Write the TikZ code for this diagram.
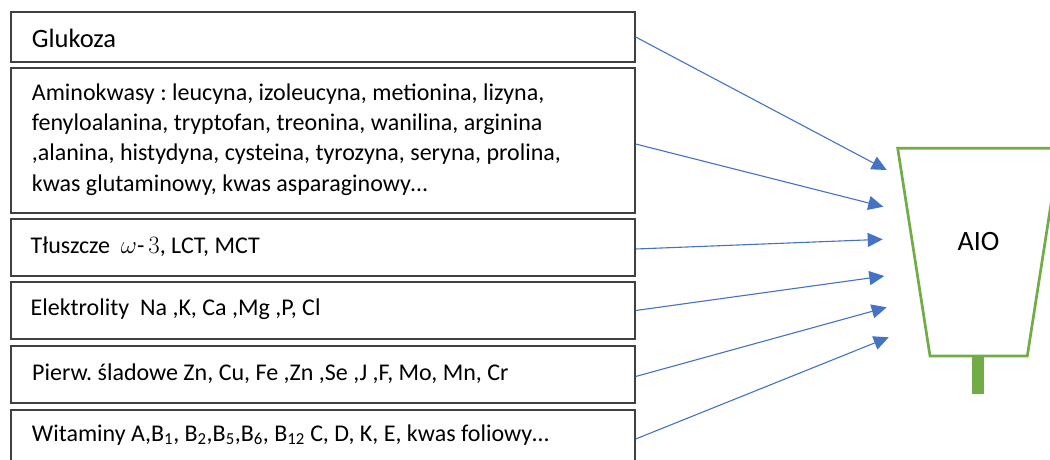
\documentclass[tikz,border=0pt]{standalone}
\usepackage{fontspec}
\setmainfont{Carlito}
\usetikzlibrary{arrows.meta}
\definecolor{arrowblue}{RGB}{68,114,196}
\definecolor{cupgreen}{RGB}{112,173,71}
\definecolor{boxline}{RGB}{64,64,64}
\frenchspacing
\begin{document}
\begin{tikzpicture}[x=1pt,y=-1pt,
  listbox/.style={draw=boxline,line width=1.3pt,minimum width=624pt,inner sep=0pt},
  itemtext/.style={anchor=base west,inner sep=0pt,font=\fontsize{24}{30.3}\selectfont\frenchspacing,align=left},
  feed/.style={draw=arrowblue,line width=1.1pt,-{Triangle[length=15pt,width=14pt]}}]
\useasboundingbox (0,0) rectangle (1050,459);
\fill[white] (0,0) rectangle (1050,459);

% input boxes
\node[listbox,minimum height=50pt]  (b1) at (323,37)    {};
\node[listbox,minimum height=145pt] (b2) at (323,140.5) {};
\node[listbox,minimum height=57pt]  (b3) at (323,247.5) {};
\node[listbox,minimum height=57pt]  (b4) at (323,310.5) {};
\node[listbox,minimum height=57pt]  (b5) at (323,374.5) {};
\node[listbox,minimum height=58pt]  (b6) at (323,439)   {};

% box contents (multi-line text is placed by its last baseline)
\node[itemtext,font=\fontsize{26.5}{30}\selectfont] (l1) at (31.7,47.5) {Glukoza};
\node[itemtext] (l2) at (31.7,191) {Aminokwasy : leucyna, izoleucyna, metionina, lizyna,\\
fenyloalanina, tryptofan, treonina, wanilina, arginina\\
,alanina, histydyna, cysteina, tyrozyna, seryna, prolina,\\
kwas glutaminowy, kwas asparaginowy\ldots};
\node[itemtext] (l3) at (30.5,253) {Tłuszcze\ \ {\fontsize{26}{30}\selectfont$\omega$}-\hspace{4pt}{\fontsize{26}{30}\selectfont$3$}, LCT, MCT};
\node[itemtext] (l4) at (30.5,315) {Elektrolity\ \ Na ,K, Ca ,Mg ,P, Cl};
\node[itemtext] (l5) at (32,380) {Pierw. śladowe Zn, Cu, Fe ,Zn ,Se ,J ,F, Mo, Mn, Cr};
\node[itemtext] (l6) at (31.7,441) {Witaminy A,B\textsubscript{1}, B\textsubscript{2},B\textsubscript{5},B\textsubscript{6}, B\textsubscript{12} C, D, K, E, kwas foliowy\ldots};

% arrow targets in front of the cup
\coordinate (t1) at (886.7,170);
\coordinate (t2) at (883.3,206.7);
\coordinate (t3) at (882.7,239.3);
\coordinate (t4) at (884.3,276);
\coordinate (t5) at (886.7,307.3);
\coordinate (t6) at (888.7,337.3);

\draw[feed] (b1.east) -- (t1);
\draw[feed] ([yshift=-3.5pt]b2.east) -- (t2);
\draw[feed] ([yshift=-1.5pt]b3.east) -- (t3);
\draw[feed] (b4.east) -- (t4);
\draw[feed] ([yshift=-2pt]b5.east) -- (t5);
\draw[feed] (b6.east) -- (t6);

% cup with stem
\draw[cupgreen,line width=2.7pt,line join=miter]
  (897.7,148.3) -- (1059.7,148.3) -- (1027.3,356) -- (930,356) -- cycle;
\fill[cupgreen] (972.3,357) rectangle (984,394.3);
\node[font=\fontsize{28}{32}\selectfont,inner sep=0pt] (aio) at (978.5,242) {AIO};
\end{tikzpicture}
\end{document}
